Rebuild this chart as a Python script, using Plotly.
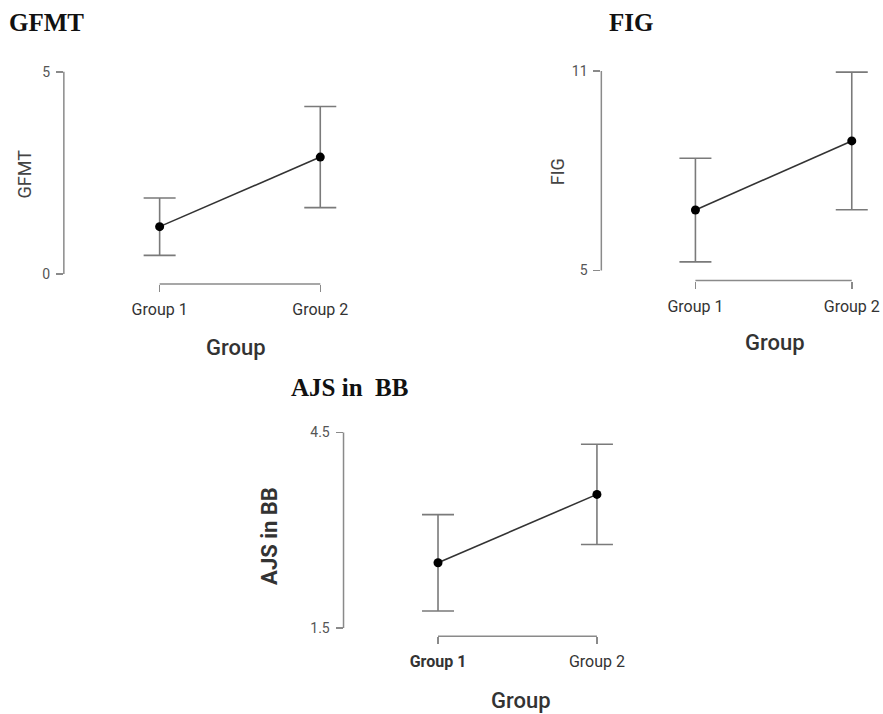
import plotly.graph_objects as go

# ---------------- data ----------------
groups = ["Group 1", "Group 2"]

gfmt_mean = [1.17, 2.89]
gfmt_err = [0.71, 1.25]
gfmt_ticks = [0, 5]

fig_mean = [6.82, 8.90]
fig_err = [1.56, 2.07]
fig_ticks = [5, 11]

ajs_mean = [2.50, 3.55]
ajs_err = [0.74, 0.77]
ajs_ticks = [1.5, 4.5]

titles = ["GFMT", "FIG", "AJS in\u00a0\u00a0BB"]
ytitles = ["GFMT", "FIG", "AJS in BB"]
xtitle = "Group"

# ---------------- layout constants (pixels in the 883x714 window) ----------------
W, H = 883, 714

FONT = "Roboto, Arial, sans-serif"
panels = [
    dict(ylx=64.0, xly=282.7, g1=160.0, g2=321.0, ytop=70.0, ybot=272.7, right=365.0,
         mean=gfmt_mean, err=gfmt_err, ticks=gfmt_ticks, ticktext=groups,
         title_xy=(47, 21), ytitle_xy=(25, 172), xtitle_xy=(236.5, 346),
         ytitle_font=dict(size=18, color="#444", family=FONT)),
    dict(ylx=602.7, xly=279.3, g1=697.0, g2=853.7, ytop=69.3, ybot=269.3, right=880.0,
         mean=fig_mean, err=fig_err, ticks=fig_ticks, ticktext=groups,
         title_xy=(632, 21), ytitle_xy=(559, 170), xtitle_xy=(776.5, 341),
         ytitle_font=dict(size=18, color="#444", family=FONT)),
    dict(ylx=344.3, xly=636.0, g1=439.0, g2=598.3, ytop=431.7, ybot=627.7, right=640.0,
         mean=ajs_mean, err=ajs_err, ticks=ajs_ticks,
         ticktext=["<b>" + groups[0] + "</b>", groups[1]],
         title_xy=(350, 387), ytitle_xy=(270, 535), xtitle_xy=(522, 700),
         ytitle_font=dict(size=22, color="#333", family=FONT, weight="bold")),
]

AXIS_COL = "#8a8a8a"
ERR_COL = "#7a7a7a"
LINE_COL = "#333333"


def X(px):
    return px / W


def Y(py):
    return 1 - py / H


fig = go.Figure()
layout = dict(width=W, height=H, margin=dict(l=0, r=0, t=0, b=0), autosize=False,
              paper_bgcolor="white", plot_bgcolor="white", showlegend=False)
shapes = []
annotations = []

xpos = list(range(len(groups)))

for i, p in enumerate(panels, start=1):
    xa = "x" if i == 1 else f"x{i}"
    ya = "y" if i == 1 else f"y{i}"
    xkey = "xaxis" if i == 1 else f"xaxis{i}"
    ykey = "yaxis" if i == 1 else f"yaxis{i}"

    fig.add_trace(go.Scatter(
        x=xpos, y=p["mean"], mode="lines+markers",
        line=dict(color=LINE_COL, width=1.6),
        marker=dict(color="black", size=9),
        error_y=dict(type="data", array=p["err"], visible=True,
                     color=ERR_COL, thickness=1.6, width=16),
        xaxis=xa, yaxis=ya, cliponaxis=False, hoverinfo="skip"))

    ppx = (p["g2"] - p["g1"]) / (len(groups) - 1)
    xmin = -(p["g1"] - p["ylx"]) / ppx
    xmax = (len(groups) - 1) + (p["right"] - p["g2"]) / ppx
    t0, t1 = p["ticks"][0], p["ticks"][-1]
    ppy = (p["ybot"] - p["ytop"]) / (t1 - t0)
    top_px = p["ytop"] - 6
    ymin = t0 - (p["xly"] - p["ybot"]) / ppy
    ymax = t1 + (p["ytop"] - top_px) / ppy

    layout[xkey] = dict(domain=[X(p["ylx"]), min(1.0, X(p["right"]))], range=[xmin, xmax],
                        anchor=ya, showgrid=False, zeroline=False, showline=False,
                        tickvals=xpos, ticktext=p["ticktext"], ticks="outside", ticklen=7,
                        tickwidth=1.5, tickcolor=AXIS_COL,
                        tickfont=dict(size=16, color="#333", family=FONT),
                        ticklabelstandoff=4, fixedrange=True)
    layout[ykey] = dict(domain=[Y(p["xly"]), Y(top_px)], range=[ymin, ymax],
                        anchor=xa, showgrid=False, zeroline=False, showline=False,
                        tickvals=p["ticks"], ticks="outside", ticklen=7,
                        tickwidth=1.5, tickcolor=AXIS_COL,
                        tickfont=dict(size=14, color="#555", family=FONT),
                        ticklabelstandoff=3, fixedrange=True)

    shapes.append(dict(type="line", xref=f"{xa} domain", yref=ya, x0=0, x1=0,
                       y0=t0, y1=t1, line=dict(color=AXIS_COL, width=1.5)))
    shapes.append(dict(type="line", xref=xa, yref=f"{ya} domain", x0=xpos[0], x1=xpos[-1],
                       y0=0, y1=0, line=dict(color=AXIS_COL, width=1.5)))

    tx, ty = p["title_xy"]
    annotations.append(dict(text=f"<b>{titles[i-1]}</b>", x=X(tx), y=Y(ty), xref="paper", yref="paper",
                            xanchor="center", yanchor="middle", showarrow=False,
                            font=dict(family="Liberation Serif, Times New Roman, serif", size=25, color="#111")))
    yx, yy = p["ytitle_xy"]
    annotations.append(dict(text=ytitles[i-1], x=X(yx), y=Y(yy), xref="paper", yref="paper",
                            xanchor="center", yanchor="middle", showarrow=False, textangle=-90,
                            font=p["ytitle_font"]))
    gx, gy = p["xtitle_xy"]
    annotations.append(dict(text=xtitle, x=X(gx), y=Y(gy), xref="paper", yref="paper",
                            xanchor="center", yanchor="middle", showarrow=False,
                            font=dict(family=FONT, size=22, color="#333", weight=500)))

layout["shapes"] = shapes
layout["annotations"] = annotations
fig.update_layout(**layout)
fig.write_html("out.html", config={"displayModeBar": False, "staticPlot": True},
               post_script="document.body.style.margin='0px';document.body.style.overflow='hidden';")
